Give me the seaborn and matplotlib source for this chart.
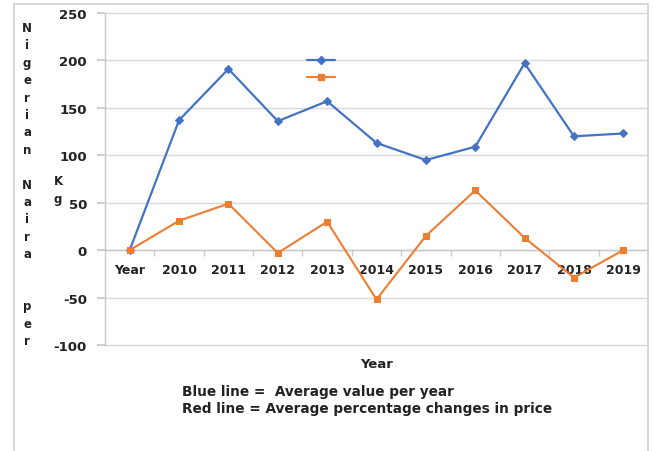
import matplotlib
matplotlib.use("Agg")
import matplotlib.pyplot as plt
import seaborn as sns
import pandas as pd
from matplotlib.lines import Line2D
from matplotlib.patches import Rectangle

categories = ["Year", "2010", "2011", "2012", "2013", "2014", "2015", "2016", "2017", "2018", "2019"]
avg_value = [0, 137, 191, 136, 157, 113, 95, 109, 197, 120, 123]
pct_change = [0, 31, 49, -3, 30, -52, 15, 63, 13, -29, 0]
y_ticks = [-100, -50, 0, 50, 100, 150, 200, 250]

BLUE = "#4472C4"
ORANGE = "#ED7D31"
GRID = "#d9d9d9"

sns.set_theme(style="white")
plt.rcParams["font.family"] = ["DejaVu Sans"]

W, H = 654, 452
fig = plt.figure(figsize=(W / 100, H / 100), dpi=100)
fig.patch.set_facecolor("white")

# outer frame
fig.patches.append(Rectangle((14 / W, -0.05), (648 - 14) / W, 1.05 - 5 / H, transform=fig.transFigure,
                             fill=False, edgecolor="#d0d0d0", linewidth=1.2))

ax = fig.add_axes([105 / W, 1 - 346 / H, (648 - 105) / W, (346 - 14) / H])

df = pd.DataFrame({"cat": categories, "avg": avg_value, "pct": pct_change})
x = list(range(len(categories)))
df["x"] = x

sns.lineplot(data=df, x="x", y="avg", ax=ax, color=BLUE, linewidth=1.6, marker="D",
             markersize=4, markeredgecolor=BLUE, zorder=3)
sns.lineplot(data=df, x="x", y="pct", ax=ax, color=ORANGE, linewidth=1.5, marker="s",
             markersize=5, markeredgecolor=ORANGE, zorder=3)

ax.set_xlim(-0.5, len(categories) - 0.5)
ax.set_ylim(-100, 250)
ax.set_yticks(y_ticks)
ax.set_yticklabels([str(v) for v in y_ticks], fontsize=9.5, fontweight="bold", color="#222222")
ax.yaxis.grid(True, color=GRID, linewidth=1)
for gl in ax.get_ygridlines():
    gl.set_clip_on(False)
ax.xaxis.grid(False)
ax.set_axisbelow(True)

for s in ["top", "right"]:
    ax.spines[s].set_visible(False)
ax.spines["left"].set_color("#c8c8c8")
ax.spines["left"].set_linewidth(1)
ax.spines["bottom"].set_position(("data", 0))
ax.spines["bottom"].set_color("#c8c8c8")
ax.spines["bottom"].set_linewidth(1)

ax.tick_params(axis="y", which="major", length=6, color="#c8c8c8", pad=7, left=True)
ax.set_xticks(x)
ax.set_xticklabels(categories, fontsize=9, fontweight="bold", color="#222222")
ax.set_xticks([i + 0.5 for i in x[:-1]], minor=True)
ax.tick_params(axis="x", which="major", length=0, pad=9, bottom=True)
ax.tick_params(axis="x", which="minor", length=4, color="#c8c8c8", bottom=True)

ax.set_xlabel("")
ax.set_ylabel("")

# legend without labels
handles = [Line2D([], [], color=BLUE, marker="D", markersize=4, linewidth=1.6),
           Line2D([], [], color=ORANGE, marker="s", markersize=5, linewidth=1.5)]
ax.legend(handles, ["", ""], loc="upper left", bbox_to_anchor=((307 - 105) / 543, (346 - 55) / 332),
          frameon=False, handlelength=2.2, borderpad=0, borderaxespad=0, labelspacing=0.35,
          fontsize=9, handletextpad=0)

# stacked y-axis label
ylabel = "\n".join(list("Nigerian")) + "\n\n" + "\n".join(list("Naira")) + "\n\n\n" + "\n".join(list("per"))
fig.text(27 / W, 1 - 22 / H, ylabel, ha="center", va="top", fontsize=8.5, fontweight="bold",
         linespacing=1.44, color="#222222")
fig.text(58 / W, 1 - 191 / H, "K\ng", ha="center", va="center", fontsize=8.5, fontweight="bold",
         linespacing=1.5, color="#222222")

fig.text(377 / W, 1 - 365 / H, "Year", ha="center", va="center", fontsize=9.5, fontweight="bold",
         color="#222222")
fig.text(182 / W, 1 - 392 / H, "Blue line =  Average value per year", ha="left", va="center",
         fontsize=9.8, fontweight="bold", color="#222222")
fig.text(182 / W, 1 - 409 / H, "Red line = Average percentage changes in price", ha="left", va="center",
         fontsize=9.8, fontweight="bold", color="#222222")

fig.savefig("out.png", dpi=100)
